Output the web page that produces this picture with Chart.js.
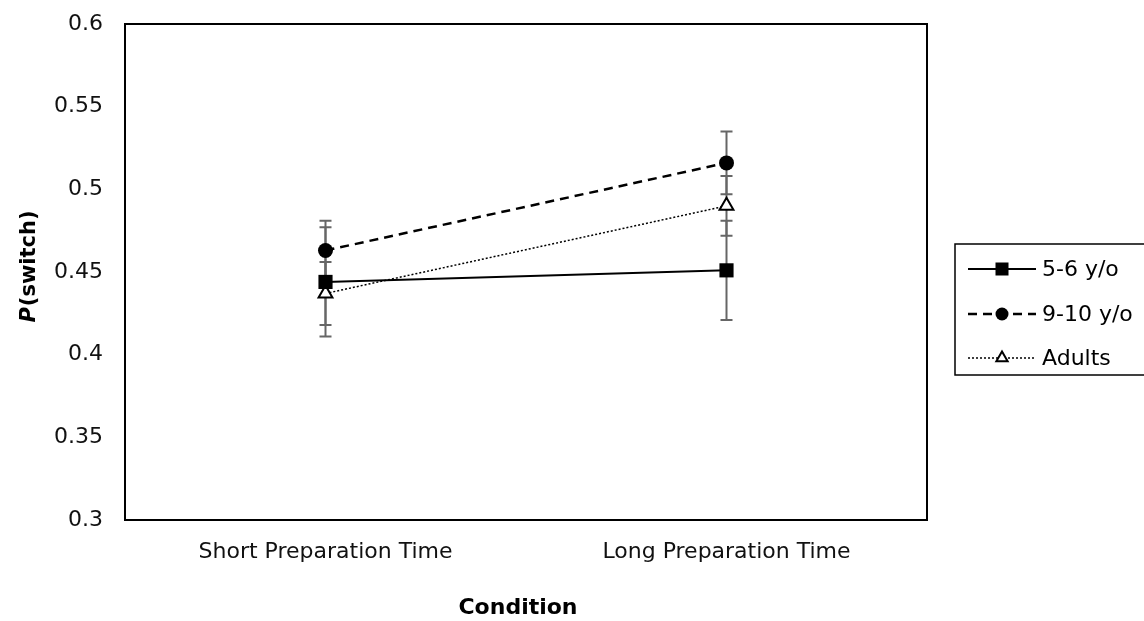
<!DOCTYPE html>
<html>
<head>
<meta charset="utf-8">
<script src="https://cdn.jsdelivr.net/npm/chart.js@4.4.0/dist/chart.umd.min.js"></script>
<style>
  html, body { margin: 0; padding: 0; background: #fff; }
  #wrap { width: 1144px; height: 621px; }
</style>
</head>
<body>
<div id="wrap"><canvas id="c" width="1144" height="621"></canvas></div>
<script>
const categories = ['Short Preparation Time', 'Long Preparation Time'];
const seriesNames = ['5-6 y/o', '9-10 y/o', 'Adults'];
const young = [0.444, 0.451];
const older = [0.463, 0.516];
const adults = [0.437, 0.490];
const youngErr = [0.033, 0.030];
const olderErr = [0.018, 0.019];
const adultsErr = [0.019, 0.018];
const yTicks = [0.3, 0.35, 0.4, 0.45, 0.5, 0.55, 0.6];
const xTitle = 'Condition';
const yTitleItalic = 'P';
const yTitleRest = '(switch)';

const FONT = "'DejaVu Sans', 'Liberation Sans', Arial, sans-serif";
const errors = [youngErr, olderErr, adultsErr];

const errorBarPlugin = {
  id: 'errorBars',
  beforeDatasetsDraw(chart) {
    const ctx = chart.ctx;
    const ys = chart.scales.y;
    ctx.save();
    ctx.strokeStyle = '#666666';
    ctx.lineWidth = 2;
    chart.data.datasets.forEach((ds, i) => {
      const meta = chart.getDatasetMeta(i);
      meta.data.forEach((pt, j) => {
        const v = ds.data[j], e = errors[i][j];
        const x = pt.x;
        const yt = ys.getPixelForValue(v + e);
        const yb = ys.getPixelForValue(v - e);
        ctx.beginPath();
        ctx.moveTo(x, yt); ctx.lineTo(x, yb);
        ctx.moveTo(x - 6, yt); ctx.lineTo(x + 6, yt);
        ctx.moveTo(x - 6, yb); ctx.lineTo(x + 6, yb);
        ctx.stroke();
      });
    });
    ctx.restore();
  }
};

function drawMarker(ctx, style, x, y) {
  ctx.save();
  ctx.setLineDash([]);
  ctx.fillStyle = '#000';
  ctx.strokeStyle = '#000';
  if (style === 'rect') {
    ctx.fillRect(x - 6.5, y - 6.5, 13, 13);
  } else if (style === 'circle') {
    ctx.beginPath(); ctx.arc(x, y, 6.5, 0, Math.PI * 2); ctx.fill();
  } else if (style === 'triangle') {
    const r = 6.5;
    ctx.fillStyle = '#fff';
    ctx.lineWidth = 2;
    ctx.beginPath();
    ctx.moveTo(x, y - r);
    ctx.lineTo(x + r * 0.866, y + r / 2);
    ctx.lineTo(x - r * 0.866, y + r / 2);
    ctx.closePath();
    ctx.fill(); ctx.stroke();
  }
  ctx.restore();
}

const framePlugin = {
  id: 'frameAndText',
  afterDraw(chart) {
    const ctx = chart.ctx;
    const a = chart.chartArea;
    ctx.save();
    // plot frame
    ctx.strokeStyle = '#000';
    ctx.lineWidth = 2;
    ctx.strokeRect(a.left, a.top, a.right - a.left, a.bottom - a.top);

    // x title
    ctx.fillStyle = '#000';
    ctx.font = "bold 22px " + FONT;
    ctx.textAlign = 'center';
    ctx.textBaseline = 'middle';
    ctx.fillText(xTitle, 518, 608);

    // y title (rotated, italic P)
    ctx.save();
    ctx.translate(30, 267);
    ctx.rotate(-Math.PI / 2);
    ctx.textBaseline = 'middle';
    ctx.font = "italic bold 21px " + FONT;
    const w1 = ctx.measureText(yTitleItalic).width;
    ctx.font = "bold 21px " + FONT;
    const w2 = ctx.measureText(yTitleRest).width;
    const start = -(w1 + w2) / 2;
    ctx.textAlign = 'left';
    ctx.font = "italic bold 21px " + FONT;
    ctx.fillText(yTitleItalic, start, 0);
    ctx.font = "bold 21px " + FONT;
    ctx.fillText(yTitleRest, start + w1 + 1, 0);
    ctx.restore();

    // legend
    ctx.lineWidth = 1.5;
    ctx.strokeStyle = '#000';
    ctx.strokeRect(955, 244, 220, 131);
    const rowY = [269, 314, 358];
    chart.data.datasets.forEach((ds, i) => {
      const y = rowY[i];
      ctx.save();
      ctx.strokeStyle = '#000';
      ctx.lineWidth = ds.borderWidth;
      ctx.setLineDash(ds.borderDash || []);
      ctx.beginPath();
      ctx.moveTo(968, y); ctx.lineTo(1036, y);
      ctx.stroke();
      ctx.restore();
      drawMarker(ctx, ds.pointStyle, 1002, y);
      ctx.fillStyle = '#000';
      ctx.font = "22px " + FONT;
      ctx.textAlign = 'left';
      ctx.textBaseline = 'middle';
      ctx.fillText(ds.label, 1042, y + 1);
    });
    ctx.restore();
  }
};

new Chart(document.getElementById('c'), {
  type: 'line',
  data: {
    labels: categories,
    datasets: [
      {
        label: seriesNames[0], data: young,
        borderColor: '#000', borderWidth: 2, borderDash: [],
        pointStyle: 'rect', pointRadius: 10, pointBackgroundColor: '#000',
        pointBorderColor: '#000', pointBorderWidth: 0, tension: 0, fill: false
      },
      {
        label: seriesNames[1], data: older,
        borderColor: '#000', borderWidth: 2.5, borderDash: [9, 6],
        pointStyle: 'circle', pointRadius: 7.5, pointBackgroundColor: '#000',
        pointBorderColor: '#000', pointBorderWidth: 0, tension: 0, fill: false
      },
      {
        label: seriesNames[2], data: adults,
        borderColor: '#000', borderWidth: 1.5, borderDash: [2, 2],
        pointStyle: 'triangle', pointRadius: 8, pointBackgroundColor: '#fff',
        pointBorderColor: '#000', pointBorderWidth: 2, tension: 0, fill: false
      }
    ]
  },
  options: {
    responsive: false,
    animation: false,
    devicePixelRatio: 1,
    layout: { padding: { top: 24, right: 217, left: 0, bottom: 0 } },
    plugins: { legend: { display: false }, tooltip: { enabled: false } },
    scales: {
      x: {
        type: 'category',
        offset: true,
        grid: { display: false, drawTicks: false },
        border: { display: false },
        ticks: { color: '#111', font: { family: FONT, size: 22 }, padding: 19, maxRotation: 0 },
        afterFit(scale) { scale.height = 101; scale.paddingLeft = 0; scale.paddingRight = 0; }
      },
      y: {
        min: 0.3, max: 0.6,
        grid: { display: false, drawTicks: false },
        border: { display: false },
        afterBuildTicks(scale) { scale.ticks = yTicks.map(v => ({ value: v })); },
        ticks: {
          color: '#111', font: { family: FONT, size: 22 }, padding: 22,
          callback: (v) => String(Number(v.toFixed(2)))
        },
        afterFit(scale) { scale.width = 125; scale.paddingTop = 0; scale.paddingBottom = 0; }
      }
    }
  },
  plugins: [errorBarPlugin, framePlugin]
});
</script>
</body>
</html>
